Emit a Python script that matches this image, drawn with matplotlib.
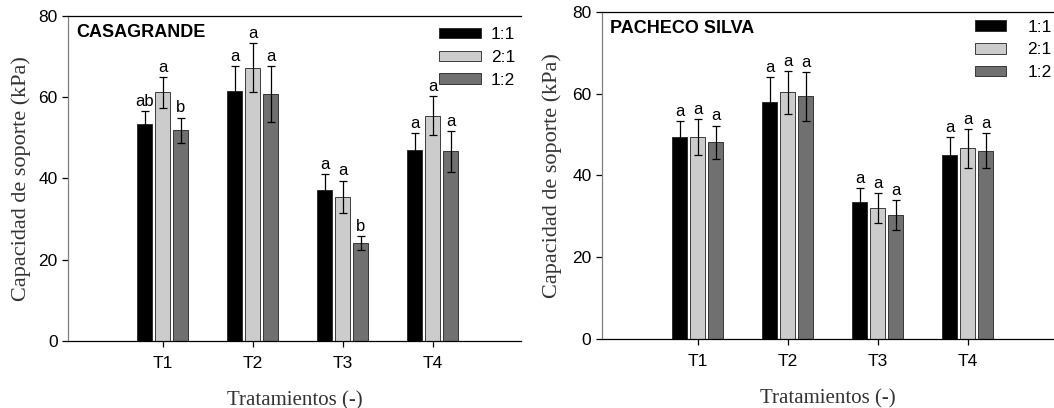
import numpy as np
import matplotlib.pyplot as plt

# Datos
tratamientos = ["T1", "T2", "T3", "T4"]
series = ["1:1", "2:1", "1:2"]
colores = ["#000000", "#cccccc", "#707070"]

casa_11 = [53.4, 61.5, 37.1, 47.0]
casa_21 = [61.2, 67.3, 35.5, 55.4]
casa_12 = [51.9, 60.8, 24.1, 46.7]
casa_err_11 = [3.2, 6.2, 3.9, 4.3]
casa_err_21 = [3.8, 6.1, 4.0, 4.8]
casa_err_12 = [3.1, 6.8, 1.7, 5.1]
casa_letras_11 = ["ab", "a", "a", "a"]
casa_letras_21 = ["a", "a", "a", "a"]
casa_letras_12 = ["b", "a", "b", "a"]

pach_11 = [49.5, 57.9, 33.4, 45.0]
pach_21 = [49.4, 60.3, 32.1, 46.6]
pach_12 = [48.1, 59.3, 30.3, 46.0]
pach_err_11 = [3.9, 6.2, 3.5, 4.5]
pach_err_21 = [4.3, 5.3, 3.7, 4.7]
pach_err_12 = [4.1, 5.9, 3.6, 4.3]
pach_letras_11 = ["a", "a", "a", "a"]
pach_letras_21 = ["a", "a", "a", "a"]
pach_letras_12 = ["a", "a", "a", "a"]

SANS = "Liberation Sans"
SERIF = "Liberation Serif"


def panel(ax, titulo, vals, errs, letras, xlim, hlen, hpad, axpad):
    x = np.arange(1, len(tratamientos) + 1)
    offsets = [-0.2, 0.0, 0.2]
    for v, e, l, c, off, nom in zip(vals, errs, letras, colores, offsets, series):
        ax.bar(x + off, v, width=0.167, color=c, edgecolor="#222222", linewidth=0.6, label=nom)
        ax.errorbar(x + off, v, yerr=e, fmt="none", ecolor="black", elinewidth=0.9,
                    capsize=3, capthick=0.9)
        for xi, vi, ei, li in zip(x + off, v, e, l):
            ax.text(xi, vi + ei + 0.5, li, ha="center", va="bottom", fontsize=12, family=SANS)
    ax.set_xlim(*xlim)
    ax.set_ylim(0, 80)
    ax.set_yticks([0, 20, 40, 60, 80])
    ax.set_xticks(x)
    ax.set_xticklabels(tratamientos, fontsize=12.5, family=SANS)
    for t in ax.get_yticklabels():
        t.set_fontsize(12.5)
        t.set_family(SANS)
    ax.spines["right"].set_visible(False)
    for s in ["left", "bottom", "top"]:
        ax.spines[s].set_linewidth(0.9)
    ax.spines["left"].set_color("#808080")
    ax.tick_params(direction="out", length=4, width=0.9)
    ax.tick_params(axis="x", pad=7)
    ax.set_ylabel("Capacidad de soporte (kPa)", fontsize=16, family=SERIF, color="#333333")
    ax.set_xlabel("Tratamientos (-)", fontsize=15, family=SERIF, color="#333333", labelpad=14)
    ax.text(0.018, 0.975, titulo, transform=ax.transAxes, ha="left", va="top",
            fontsize=13, fontweight="bold", family=SANS)
    leg = ax.legend(loc="upper right", bbox_to_anchor=(1.012, 1.0), frameon=False,
                    handlelength=hlen, handleheight=0.55, prop={"family": SANS, "size": 12.5},
                    labelspacing=0.45, handletextpad=hpad, borderaxespad=axpad)
    return leg


fig = plt.figure(figsize=(10.54, 4.08), dpi=100)
ax1 = fig.add_axes([0.0645, 0.164, 0.430, 0.797])
ax2 = fig.add_axes([0.571, 0.169, 0.429, 0.802])

panel(ax1, "CASAGRANDE",
      [casa_11, casa_21, casa_12],
      [casa_err_11, casa_err_21, casa_err_12],
      [casa_letras_11, casa_letras_21, casa_letras_12],
      (-0.05, 4.98), 2.4, 0.6, 0.25)
panel(ax2, "PACHECO SILVA",
      [pach_11, pach_21, pach_12],
      [pach_err_11, pach_err_21, pach_err_12],
      [pach_letras_11, pach_letras_21, pach_letras_12],
      (-0.067, 4.96), 1.8, 1.2, 0.05)

ax1.yaxis.set_label_coords(-0.082, 0.5)
ax2.yaxis.set_label_coords(-0.088, 0.5)

fig.savefig("out.png", dpi=100)
